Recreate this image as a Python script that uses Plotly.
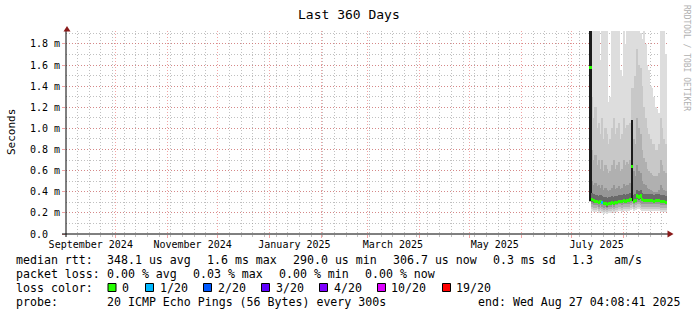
import plotly.graph_objects as go
import pandas as pd

# ---------------- data ----------------
x_start = "2024-09-01 04:08:41"
x_end = "2025-08-27 04:08:41"
days = pd.date_range("2025-07-12", periods=46, freq="D") + pd.Timedelta(hours=12)

median_ms = [1.58, 0.33, 0.32, 0.31, 0.31, 0.30, 0.31, 0.30, 0.29, 0.29,
             0.28, 0.29, 0.29, 0.30, 0.29, 0.30, 0.30, 0.31, 0.31, 0.31,
             0.32, 0.31, 0.32, 0.32, 0.33, 0.64, 0.31, 0.32, 0.36, 0.35,
             0.36, 0.33, 0.32, 0.32, 0.32, 0.32, 0.32, 0.32, 0.31, 0.32,
             0.32, 0.32, 0.31, 0.31, 0.31, 0.30]
loss_count = [0, 0, 0, 0, 0, 0, 0, 1, 0, 0,
              0, 0, 0, 0, 0, 0, 0, 0, 0, 0,
              0, 0, 0, 0, 0, 0, 0, 0, 0, 0,
              0, 0, 0, 0, 0, 0, 0, 0, 0, 0,
              0, 0, 0, 0, 0, 0]

# smoke bands (ms): outermost (light) to innermost (dark)
band1_hi = [2.0, 2.0, 2.0, 2.0, 2.0, 2.0, 1.65, 2.0, 2.0, 2.0,
            2.0, 1.25, 1.30, 2.0, 2.0, 2.0, 2.0, 2.0, 1.55, 1.50,
            2.0, 1.80, 2.0, 2.0, 2.0, 2.0, 2.0, 2.0, 2.0, 2.0,
            1.90, 1.85, 2.0, 1.80, 1.60, 1.55, 1.40, 1.38, 1.30, 1.20,
            1.18, 1.15, 2.0, 2.0, 2.0, 1.70]
band1_lo = [0.30, 0.22, 0.21, 0.21, 0.22, 0.20, 0.21, 0.20, 0.19, 0.20,
            0.19, 0.20, 0.20, 0.21, 0.20, 0.21, 0.21, 0.22, 0.22, 0.21,
            0.22, 0.22, 0.22, 0.22, 0.23, 0.24, 0.22, 0.23, 0.24, 0.24,
            0.23, 0.22, 0.22, 0.22, 0.22, 0.22, 0.22, 0.22, 0.22, 0.22,
            0.22, 0.22, 0.21, 0.21, 0.21, 0.21]
band2_hi = [2.0, 1.30, 1.10, 1.20, 1.00, 1.05, 0.95, 1.10, 0.90, 1.00,
            0.95, 0.85, 0.90, 1.00, 1.10, 0.95, 1.00, 1.05, 0.90, 0.95,
            1.10, 1.00, 1.03, 1.03, 1.05, 1.38, 1.38, 1.50, 1.75, 1.60,
            1.57, 1.40, 1.20, 1.10, 1.00, 0.95, 0.90, 0.85, 0.85, 0.80,
            0.80, 0.85, 1.10, 1.00, 0.90, 0.85]
band2_lo = [0.30, 0.24, 0.23, 0.23, 0.24, 0.22, 0.23, 0.22, 0.21, 0.22,
            0.21, 0.22, 0.22, 0.23, 0.22, 0.23, 0.23, 0.24, 0.24, 0.23,
            0.24, 0.24, 0.24, 0.24, 0.25, 0.26, 0.24, 0.25, 0.26, 0.26,
            0.25, 0.24, 0.24, 0.24, 0.24, 0.24, 0.24, 0.24, 0.24, 0.24,
            0.24, 0.24, 0.23, 0.23, 0.23, 0.23]
band3_hi = [2.0, 0.80, 0.70, 0.75, 0.65, 0.70, 0.62, 0.70, 0.60, 0.65,
            0.62, 0.58, 0.60, 0.65, 0.70, 0.62, 0.65, 0.68, 0.60, 0.62,
            0.70, 0.65, 0.68, 0.66, 0.70, 1.08, 0.90, 0.85, 1.10, 1.00,
            0.95, 0.80, 0.72, 0.68, 0.62, 0.60, 0.58, 0.56, 0.55, 0.55,
            0.55, 0.58, 0.70, 0.65, 0.60, 0.58]
band3_lo = [0.31, 0.26, 0.25, 0.25, 0.26, 0.24, 0.25, 0.24, 0.23, 0.24,
            0.23, 0.24, 0.24, 0.25, 0.24, 0.25, 0.25, 0.26, 0.26, 0.25,
            0.26, 0.26, 0.26, 0.26, 0.27, 0.28, 0.26, 0.27, 0.28, 0.28,
            0.27, 0.26, 0.26, 0.26, 0.26, 0.26, 0.26, 0.26, 0.26, 0.26,
            0.26, 0.26, 0.25, 0.25, 0.25, 0.25]
band4_hi = [2.0, 0.50, 0.46, 0.48, 0.45, 0.46, 0.44, 0.46, 0.42, 0.44,
            0.42, 0.41, 0.42, 0.44, 0.46, 0.43, 0.44, 0.45, 0.43, 0.44,
            0.47, 0.45, 0.46, 0.46, 0.48, 1.08, 0.60, 0.55, 0.65, 0.60,
            0.58, 0.50, 0.47, 0.46, 0.44, 0.43, 0.42, 0.41, 0.40, 0.40,
            0.40, 0.42, 0.46, 0.44, 0.42, 0.41]
band4_lo = [0.31, 0.28, 0.27, 0.27, 0.27, 0.26, 0.27, 0.26, 0.25, 0.26,
            0.25, 0.26, 0.26, 0.27, 0.26, 0.27, 0.27, 0.28, 0.28, 0.27,
            0.28, 0.28, 0.28, 0.28, 0.29, 0.30, 0.28, 0.29, 0.30, 0.30,
            0.29, 0.28, 0.28, 0.28, 0.28, 0.28, 0.28, 0.28, 0.28, 0.28,
            0.28, 0.28, 0.27, 0.27, 0.27, 0.27]
band5_hi = [2.0, 0.39, 0.38, 0.37, 0.37, 0.36, 0.37, 0.36, 0.35, 0.35,
            0.34, 0.35, 0.35, 0.36, 0.35, 0.36, 0.36, 0.37, 0.37, 0.37,
            0.38, 0.37, 0.38, 0.38, 0.39, 1.08, 0.37, 0.38, 0.42, 0.41,
            0.42, 0.39, 0.38, 0.38, 0.38, 0.38, 0.38, 0.38, 0.37, 0.38,
            0.38, 0.38, 0.37, 0.37, 0.37, 0.36]
band5_lo = [0.31, 0.30, 0.29, 0.29, 0.29, 0.28, 0.29, 0.28, 0.27, 0.27,
            0.26, 0.27, 0.27, 0.28, 0.27, 0.28, 0.28, 0.29, 0.29, 0.29,
            0.30, 0.29, 0.30, 0.30, 0.31, 0.31, 0.29, 0.30, 0.33, 0.32,
            0.33, 0.31, 0.30, 0.30, 0.30, 0.30, 0.30, 0.30, 0.29, 0.30,
            0.30, 0.30, 0.29, 0.29, 0.29, 0.28]

band_colors = ["#dddddd", "#c8c8c8", "#b0b0b0", "#969696", "#6a6a6a"]
spike_color = "#1c1c1c"

loss_levels = [0, 1, 2, 3, 4, 10, 19]
loss_labels = ["0", "1/20", "2/20", "3/20", "4/20", "10/20", "19/20"]
loss_colors = ["#26ff00", "#00b8ff", "#0059ff", "#5e00ff", "#7e00ff", "#dd00ff", "#ff0000"]

y_tickvals = [0.0, 0.2, 0.4, 0.6, 0.8, 1.0, 1.2, 1.4, 1.6, 1.8]
y_ticktext = ["0.0  ", "0.2 m", "0.4 m", "0.6 m", "0.8 m", "1.0 m", "1.2 m", "1.4 m", "1.6 m", "1.8 m"]
x_labelvals = ["2024-09-16", "2024-11-16", "2025-01-16", "2025-03-16", "2025-05-16", "2025-07-16"]
x_labeltext = ["September 2024", "November 2024", "January 2025", "March 2025", "May 2025", "July 2025"]

legend_row1 = [("median rtt:", 16), ("348.1 us avg", 107), ("1.6 ms max", 207), ("290.0 us min", 293),
               ("306.7 us now", 393), ("0.3 ms sd", 493), ("1.3", 572), ("am/s", 614)]
legend_row2 = [("packet loss:", 16), ("0.00 % avg", 107), ("0.03 % max", 193), ("0.00 % min", 279),
               ("0.00 % now", 365)]
legend_row3_box_x = [108, 145.5, 203.5, 261.5, 319.5, 377.5, 442.5]
legend_row3_label_x = [122, 160, 218, 276, 334, 391, 456]
probe_text = "20 ICMP Echo Pings (56 Bytes) every 300s"
end_text = "end: Wed Aug 27 04:08:41 2025"

# ---------------- layout geometry ----------------
W, H = 697, 315
L, R, T, B = 66, 667, 31, 234
MONO = "DejaVu Sans Mono"
DAY_MS = 86400000


def px(xp):
    return (xp - L) / (R - L)


def py(yp):
    return (B - yp) / (B - T)


fig = go.Figure()

bands = [(band1_lo, band1_hi), (band2_lo, band2_hi), (band3_lo, band3_hi),
         (band4_lo, band4_hi), (band5_lo, band5_hi)]
for i, ((lo, hi), col) in enumerate(zip(bands, band_colors)):
    if i == len(bands) - 1:
        colors = [spike_color if h > 1.0 else col for h in hi]
    else:
        colors = col
    fig.add_trace(go.Bar(
        x=days, y=[h - l for l, h in zip(lo, hi)], base=lo,
        width=[DAY_MS] * len(days), marker=dict(color=colors, line=dict(width=0)),
        showlegend=False, hoverinfo="skip"))

color_of = dict(zip(loss_levels, loss_colors))
med_thick = 0.03
fig.add_trace(go.Bar(
    x=days, y=[med_thick] * len(days), base=[m - med_thick / 2 for m in median_ms],
    width=[DAY_MS] * len(days),
    marker=dict(color=[color_of[c] for c in loss_count], line=dict(width=0)),
    showlegend=False, hoverinfo="skip"))

# invisible trace to activate the label axis
fig.add_trace(go.Scatter(x=[x_start], y=[0], xaxis="x2", mode="markers",
                         marker=dict(opacity=0), showlegend=False, hoverinfo="skip"))

grid_minor = "rgba(140,140,140,0.55)"
grid_major = "rgba(230,90,90,0.55)"
DASH = "1px,2px"

fig.update_layout(
    width=W, height=H, autosize=False,
    margin=dict(l=L, r=W - R, t=T, b=H - B, pad=0),
    paper_bgcolor="white", plot_bgcolor="white",
    barmode="overlay", bargap=0,
    font=dict(family=MONO, size=10, color="black"),
    xaxis=dict(
        type="date", range=[x_start, x_end], showticklabels=False,
        tickmode="linear", tick0="2024-09-01", dtick="M1",
        showgrid=True, gridcolor=grid_major, griddash=DASH, gridwidth=1,
        ticks="outside", ticklen=3, tickcolor=grid_major, tickwidth=1,
        minor=dict(tick0="2024-09-08", dtick=7 * DAY_MS, showgrid=True,
                   gridcolor=grid_minor, griddash=DASH, gridwidth=1,
                   ticks="outside", ticklen=2, tickcolor=grid_minor),
        showline=False, zeroline=False, fixedrange=True, layer="below traces"),
    xaxis2=dict(
        type="date", range=[x_start, x_end], overlaying="x", anchor="y", side="bottom",
        tickmode="array", tickvals=x_labelvals, ticktext=x_labeltext,
        showgrid=False, showline=False, zeroline=False, ticks="", ticklen=0,
        ticklabelstandoff=3,
        tickfont=dict(family=MONO, size=10, color="black")),
    yaxis=dict(
        range=[0, (B - T) / 105.6], tickmode="array", tickvals=y_tickvals,
        ticktext=[t.replace(" ", "\u00a0") for t in y_ticktext],
        showgrid=True, gridcolor=grid_major, griddash=DASH, gridwidth=1,
        ticks="outside", ticklen=3, tickcolor=grid_major,
        minor=dict(tick0=0, dtick=0.1, showgrid=True, gridcolor=grid_minor,
                   griddash=DASH, gridwidth=1),
        zeroline=False, showline=False, layer="below traces",
        tickfont=dict(family=MONO, size=10, color="black")),
)

shapes = []
axis_col = "black"
arrow_col = "#8a1a1a"
# axis lines
shapes.append(dict(type="line", xref="paper", yref="paper", x0=px(62), x1=px(668), y0=0, y1=0,
                   line=dict(color=axis_col, width=1), layer="above"))
shapes.append(dict(type="line", xref="paper", yref="paper", x0=0, x1=0, y0=py(237), y1=py(31),
                   line=dict(color=axis_col, width=1), layer="above"))
# arrows
shapes.append(dict(type="path", xref="paper", yref="paper",
                   path=f"M {px(63.5)} {py(31.5)} L {px(70.5)} {py(31.5)} L {px(67)} {py(26)} Z",
                   fillcolor=arrow_col, line=dict(width=0), layer="above"))
shapes.append(dict(type="path", xref="paper", yref="paper",
                   path=f"M {px(667.5)} {py(230.5)} L {px(667.5)} {py(237.5)} L {px(673.5)} {py(234)} Z",
                   fillcolor=arrow_col, line=dict(width=0), layer="above"))
# loss color boxes
for bx, col in zip(legend_row3_box_x, loss_colors):
    shapes.append(dict(type="rect", xref="paper", yref="paper",
                       x0=px(bx), x1=px(bx + 8), y0=py(291.5), y1=py(283.5),
                       fillcolor=col, line=dict(color="black", width=1), layer="above"))

ann = []


def text_at(txt, xpix, ypix, size=11.6, xanchor="left", color="black", angle=0):
    ann.append(dict(text=txt.replace(" ", "\u00a0"), xref="paper", yref="paper",
                    x=px(xpix), y=py(ypix), xanchor=xanchor, yanchor="middle",
                    showarrow=False, borderpad=0, textangle=angle,
                    font=dict(family=MONO, size=size, color=color)))


text_at("Last 360 Days", 348.5, 14, size=13, xanchor="center")
text_at("Seconds", 11, 132, size=11, xanchor="center", angle=-90)
text_at("RRDTOOL / TOBI OETIKER", 686, 58, size=8, xanchor="center", color="#b0b0b0", angle=90)

for t, xx in legend_row1:
    text_at(t, xx - 1, 259.5)
for t, xx in legend_row2:
    text_at(t, xx - 1, 273.5)
text_at("loss color:", 15, 287.5)
for t, xx in zip(loss_labels, legend_row3_label_x):
    text_at(t, xx - 1, 287.5)
text_at("probe:", 15, 301.5)
text_at(probe_text, 106, 301.5)
text_at(end_text, 681, 301.5, xanchor="right")

fig.update_layout(shapes=shapes, annotations=ann)
fig.write_html("out.html")
